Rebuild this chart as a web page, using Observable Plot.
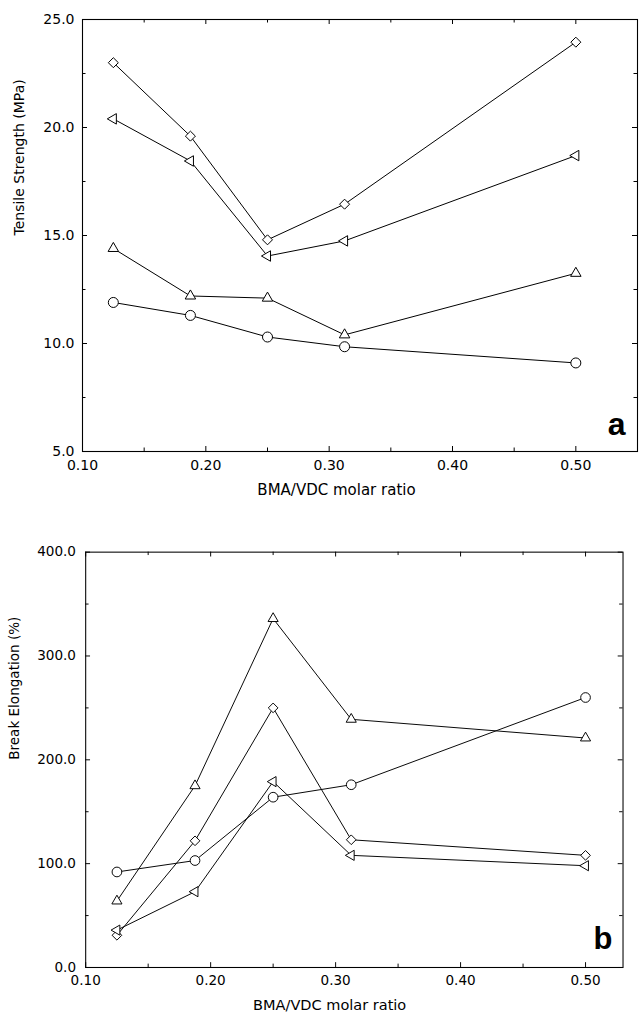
<!DOCTYPE html>
<html><head><meta charset="utf-8">
<script src="https://cdn.jsdelivr.net/npm/d3@7"></script>
<script src="https://cdn.jsdelivr.net/npm/@observablehq/plot@0.6"></script>
<style>
html,body{margin:0;padding:0;background:#fff;overflow:hidden;width:639px;height:1033px;}
#chart svg{display:block;}
</style></head><body><div id="chart"></div>
<script>
// ---- data ----
const ratios = [0.125, 0.1875, 0.25, 0.3125, 0.5];
// panel a: Tensile Strength (MPa)
const tensileDiamond = [23.0, 19.6, 14.8, 16.45, 23.95];
const tensileLeftTri = [20.4, 18.45, 14.05, 14.75, 18.7];
const tensileUpTri   = [14.4, 12.2, 12.1, 10.4, 13.25];
const tensileCircle  = [11.9, 11.3, 10.3, 9.85, 9.1];
// panel b: Break Elongation (%)
const elongUpTri   = [64, 175, 336, 239, 221];
const elongDiamond = [31, 122, 250, 123, 108];
const elongLeftTri = [36, 73, 179, 108, 98];
const elongCircle  = [92, 103, 164, 176, 260];
// ticks
const xTicks = [0.1, 0.2, 0.3, 0.4, 0.5];
const xMinor = [0.15, 0.25, 0.35, 0.45];
const tensileTicks = [5, 10, 15, 20, 25];
const tensileMinor = [7.5, 12.5, 17.5, 22.5];
const elongTicks = [0, 100, 200, 300, 400];
const elongMinor = [50, 150, 250, 350];
const xLabel = "BMA/VDC molar ratio";

const triangleLeft = {
  draw(context, size) {
    const s = Math.sqrt(size) * 0.6824, t = s / 2, u = s * Math.sqrt(3) / 2;
    context.moveTo(-s, 0);
    context.lineTo(t, -u);
    context.lineTo(t, u);
    context.closePath();
  }
};

function panel(o) {
  const pw = o.width - o.ml - o.mr, ph = o.height - o.mt - o.mb;
  const marks = [];
  const majorLen = 5, minorLen = 3.5;
  const xt = (vals, len) => [
    Plot.tickX(vals, {x: d => d, insetTop: ph - len, stroke: "black"}),
    Plot.tickX(vals, {x: d => d, insetBottom: ph - len, stroke: "black"})
  ];
  const yt = (vals, len) => [
    Plot.tickY(vals, {y: d => d, insetRight: pw - len, stroke: "black"}),
    Plot.tickY(vals, {y: d => d, insetLeft: pw - len, stroke: "black"})
  ];
  marks.push(...xt(xTicks, majorLen), ...xt(xMinor, minorLen), ...yt(o.yTicks, majorLen), ...yt(o.yMinor, minorLen));
  marks.push(Plot.frame({stroke: "black", strokeWidth: 1.1}));
  marks.push(Plot.axisX({ticks: xTicks, tickSize: 0, tickPadding: o.xPad, tickFormat: d => d.toFixed(2), label: null}));
  marks.push(Plot.axisY({ticks: o.yTicks, tickSize: 0, tickPadding: o.yPad, tickFormat: d => d.toFixed(1), label: null}));
  for (const s of o.series) {
    const data = ratios.map((x, i) => ({x, y: s.values[i]}));
    marks.push(Plot.line(data, {x: "x", y: "y", stroke: "black", strokeWidth: 1}));
  }
  for (const s of o.series) {
    const data = ratios.map((x, i) => ({x, y: s.values[i]}));
    marks.push(Plot.dot(data, {x: "x", y: "y", symbol: s.symbol, r: s.r, fill: "white", stroke: "black", strokeWidth: 1}));
  }
  marks.push(Plot.text([xLabel], {text: d => d, frameAnchor: "bottom", dx: o.xLabelDx, dy: o.xLabelDy, fontSize: 15}));
  marks.push(Plot.text([o.yLabel], {text: d => d, frameAnchor: "left", dx: o.yLabelDx, rotate: -90, fontSize: 14}));
  marks.push(Plot.text([o.letter], {text: d => d, frameAnchor: "bottom-right", dx: o.letterDx, dy: o.letterDy,
    textAnchor: "end", lineAnchor: "bottom", fontSize: 32, fontWeight: "bold", fontFamily: "Liberation Sans, Arial, sans-serif"}));
  return Plot.plot({
    width: o.width, height: o.height,
    marginLeft: o.ml, marginRight: o.mr, marginTop: o.mt, marginBottom: o.mb,
    x: {domain: o.xDomain},
    y: {domain: o.yDomain},
    style: {fontFamily: "DejaVu Sans, sans-serif", fontSize: "14px", color: "black", background: "white", overflow: "visible"},
    marks
  });
}

const panelA = panel({
  width: 639, height: 520, ml: 82, mr: 2, mt: 19, mb: 69,
  xDomain: [0.1, 0.55], yDomain: [5, 25], yTicks: tensileTicks, yMinor: tensileMinor,
  xPad: 9, yPad: 8,
  series: [
    {values: tensileDiamond, symbol: "diamond2", r: 4.5},
    {values: tensileLeftTri, symbol: triangleLeft, r: 5},
    {values: tensileUpTri, symbol: "triangle2", r: 5},
    {values: tensileCircle, symbol: "circle", r: 5}
  ],
  yLabel: "Tensile Strength (MPa)", yLabelDx: -63,
  xLabelDx: -23.5, xLabelDy: 43,
  letter: "a", letterDx: -12, letterDy: -17
});
const panelB = panel({
  width: 660, height: 513, ml: 88, mr: 17, mt: 32.7, mb: 51.3,
  xDomain: [0.1, 0.53], yDomain: [0, 400], yTicks: elongTicks, yMinor: elongMinor,
  xPad: 8, yPad: 10,
  series: [
    {values: elongUpTri, symbol: "triangle2", r: 5},
    {values: elongDiamond, symbol: "diamond2", r: 4.5},
    {values: elongLeftTri, symbol: triangleLeft, r: 5},
    {values: elongCircle, symbol: "circle", r: 5}
  ],
  yLabel: "Break Elongation (%)", yLabelDx: -73,
  xLabelDx: -25.5, xLabelDy: 44.3,
  letter: "b", letterDx: -11, letterDy: -18.7
});
document.getElementById("chart").append(panelA, panelB);
</script></body></html>
